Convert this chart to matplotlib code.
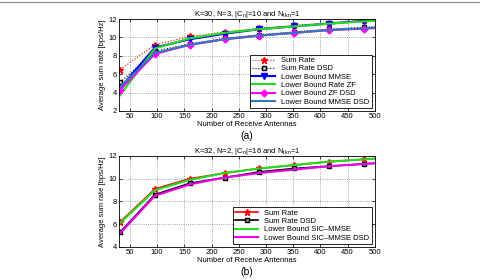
import numpy as np
import matplotlib
matplotlib.use('Agg')
import matplotlib.pyplot as plt
from matplotlib.lines import Line2D

plt.rcParams['font.family'] = ['Liberation Sans', 'DejaVu Sans']
plt.rcParams['mathtext.fontset'] = 'custom'
plt.rcParams['mathtext.rm'] = 'Liberation Sans'
plt.rcParams['mathtext.it'] = 'Liberation Sans'

# --- data ---
antennas = [32, 96, 160, 224, 288, 352, 416, 480, 512]

# (a) K=30, N=3
a_sum_rate = [6.5, 9.2, 10.1, 10.6, 11.0, 11.3, 11.6, 11.9, 12.0]
a_sum_rate_dsd = [5.1, 8.5, 9.3, 9.9, 10.3, 10.6, 10.9, 11.1, 11.2]
a_lb_mmse = [4.5, 8.9, 9.8, 10.4, 10.9, 11.2, 11.5, 11.8, 11.9]
a_lb_zf = [3.7, 8.8, 9.9, 10.5, 10.9, 11.2, 11.5, 11.75, 11.85]
a_lb_zf_dsd = [4.3, 8.2, 9.2, 9.8, 10.2, 10.5, 10.8, 10.95, 11.05]
a_lb_mmse_dsd = [4.6, 8.3, 9.2, 9.8, 10.2, 10.5, 10.8, 11.0, 11.1]

# (b) K=32, N=2
b_sum_rate = [6.2, 9.1, 10.0, 10.5, 10.9, 11.2, 11.5, 11.7, 11.8]
b_sum_rate_dsd = [5.3, 8.6, 9.6, 10.1, 10.6, 10.9, 11.1, 11.3, 11.4]
b_lb_sic = [6.1, 9.0, 9.9, 10.5, 10.9, 11.2, 11.5, 11.7, 11.8]
b_lb_sic_dsd = [5.2, 8.5, 9.5, 10.1, 10.5, 10.8, 11.1, 11.3, 11.4]

xticks = [50, 100, 150, 200, 250, 300, 350, 400, 450, 500]

fs = 5.5
fig = plt.figure(figsize=(4.8, 2.8), dpi=100)
fig.add_artist(Line2D([0, 1], [0.993, 0.993], color='#999999', lw=1.0))

ax1 = fig.add_axes([0.248, 0.604, 0.533, 0.328])
ax2 = fig.add_axes([0.248, 0.118, 0.533, 0.325])

ax1.plot(antennas, a_sum_rate, ':', color='red', marker='*', ms=5, lw=0.8, label='Sum Rate')
ax1.plot(antennas, a_sum_rate_dsd, ':', color='black', marker='s', ms=3.5, mfc='#cccccc', lw=0.8, label='Sum Rate DSD')
ax1.plot(antennas, a_lb_mmse, '-', color='#0000ee', marker='v', ms=4, lw=1.5, label='Lower Bound MMSE')
ax1.plot(antennas, a_lb_zf, '-', color='#22dd22', lw=1.5, label='Lower Bound Rate ZF')
ax1.plot(antennas, a_lb_zf_dsd, '-', color='#ff00ff', marker='D', ms=3.5, lw=1.5, label='Lower Bound ZF DSD')
ax1.plot(antennas, a_lb_mmse_dsd, '-', color='#3377bb', lw=1.5, label='Lower Bound MMSE DSD')
ax1.set_ylim(2, 12)
ax1.set_yticks([2, 4, 6, 8, 10, 12])
ax1.set_title(r'K=30, N=3, |C$_n$|=10 and N$_{tkn}$=1', fontsize=fs, pad=2)

ax2.plot(antennas, b_sum_rate, '-', color='red', marker='*', ms=5, lw=1.2, label='Sum Rate')
ax2.plot(antennas, b_sum_rate_dsd, '-', color='black', marker='s', ms=3.5, mfc='#888888', lw=1.2, label='Sum Rate DSD')
ax2.plot(antennas, b_lb_sic, '-', color='#22dd22', lw=1.5, label='Lower Bound SIC\u2013MMSE')
ax2.plot(antennas, b_lb_sic_dsd, '-', color='#ee00ee', lw=1.5, label='Lower Bound SIC\u2013MMSE DSD')
ax2.set_ylim(4, 12)
ax2.set_yticks([4, 6, 8, 10, 12])
ax2.set_title(r'K=32, N=2, |C$_n$|=16 and N$_{tkn}$=1', fontsize=fs, pad=2)

for ax, tag in [(ax1, '(a)'), (ax2, '(b)')]:
    ax.set_xlim(30, 500)
    ax.set_xticks(xticks)
    ax.grid(True, linestyle=':', color='#888888', lw=0.6)
    ax.tick_params(labelsize=fs, length=2, width=0.5, pad=1.5, direction='in', top=True, right=True)
    for s in ax.spines.values():
        s.set_linewidth(0.6)
    ax.set_xlabel('Number of Receive Antennas', fontsize=fs, labelpad=0.5)
    ax.set_ylabel('Average sum rate [bps/Hz]', fontsize=fs, labelpad=2)
    leg = ax.legend(loc='lower right', fontsize=fs, handlelength=3, borderpad=0.3,
                    labelspacing=0.12, fancybox=False, framealpha=1, borderaxespad=0.4)
    leg.get_frame().set_edgecolor('black')
    leg.get_frame().set_linewidth(0.6)
    ax.text(0.5, -0.275, tag, transform=ax.transAxes, ha='center', va='center', fontsize=7.5)

fig.savefig('out.png', dpi=100)
